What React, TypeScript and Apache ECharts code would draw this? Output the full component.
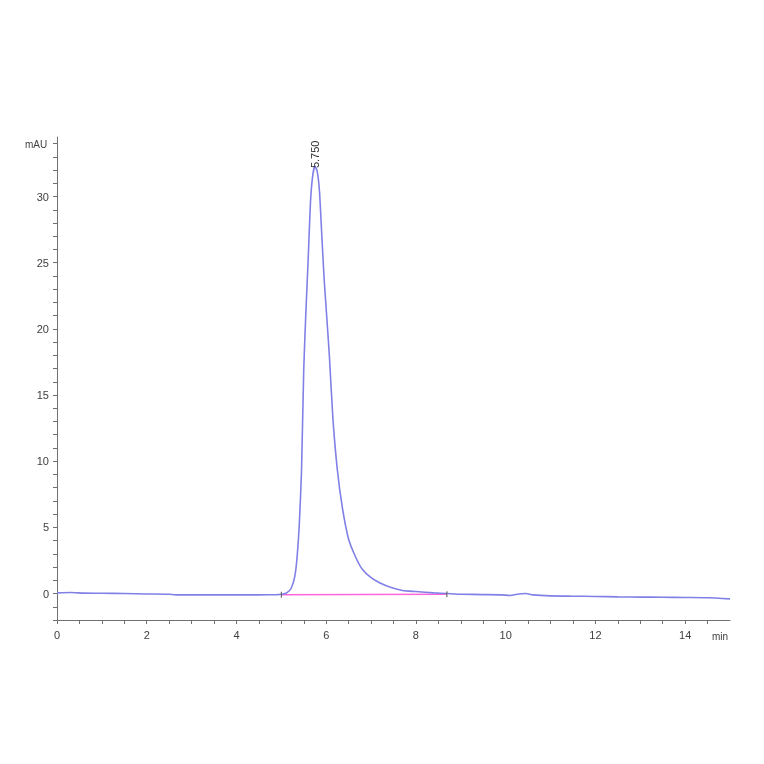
import React, { useEffect, useRef } from "react";
import * as echarts from "echarts";

// retention time (min) and detector signal (mAU)
const timeMin = [
  0, 0.3, 0.6, 1.0, 1.5, 2.0, 2.5, 2.65, 3.0, 3.5, 4.0, 4.5, 4.9, 5.02, 5.12,
  5.22, 5.3, 5.35, 5.4, 5.45, 5.5, 5.55, 5.6, 5.65, 5.7, 5.75, 5.8, 5.85, 5.9,
  5.95, 6.0, 6.07, 6.15, 6.25, 6.36, 6.5, 6.65, 6.8, 7.0, 7.2, 7.45, 7.7, 8.0,
  8.4, 8.7, 9.0, 9.5, 9.9, 10.1, 10.25, 10.45, 10.6, 11.0, 11.5, 12.0, 12.5,
  13.0, 13.5, 14.0, 14.5, 15.0,
];
const signalMAU = [
  0.05, 0.08, 0.03, 0.02, 0.0, -0.03, -0.05, -0.1, -0.1, -0.1, -0.1, -0.1,
  -0.08, -0.05, 0.05, 0.4, 1.3, 2.7, 5.2, 9.3, 17.0, 21.5, 25.4, 29.6, 31.6,
  32.3, 31.9, 30.4, 27.2, 24.0, 21.5, 18.0, 13.2, 9.3, 6.5, 4.1, 2.8, 1.85, 1.2,
  0.8, 0.45, 0.23, 0.15, 0.05, 0.0, -0.05, -0.08, -0.1, -0.15, -0.05, 0.0, -0.1,
  -0.18, -0.2, -0.22, -0.25, -0.27, -0.28, -0.3, -0.32, -0.4,
];

// integration baseline under the peak
const baselineTime = [5.0, 8.69];
const baselineValue = [-0.1, -0.06];

const peakTime = 5.75;
const peakValue = 32.3;
const peakLabel = "5.750";

// axis layout: x ticks every 0.5 min, labelled every 2; y ticks every 1 mAU, labelled every 5
const xMin = 0;
const xMax = 15;
const xTickStep = 0.5;
const xLabelStep = 2;
const yMin = -2;
const yMax = 34.5;
const yTickStep = 1;
const yLabelStep = 5;

const axisColor = "#707070";
const textColor = "#404040";
const font = "Liberation Sans";

const App: React.FC = () => {
  const chartRef = useRef<HTMLDivElement>(null);

  useEffect(() => {
    if (!chartRef.current) return;
    const chart = echarts.init(chartRef.current, undefined, { renderer: "svg" });

    const trace = timeMin.map((t, i) => [t, signalMAU[i]]);
    const baseline = baselineTime.map((t, i) => [t, baselineValue[i]]);

    chart.setOption({
      animation: false,
      grid: { left: 57, right: 34, top: 137, bottom: 144 },
      xAxis: {
        type: "value",
        min: xMin,
        max: xMax,
        interval: xTickStep,
        axisLine: { show: true, onZero: false, lineStyle: { color: axisColor } },
        axisTick: { show: true, length: 4, lineStyle: { color: axisColor } },
        axisLabel: {
          color: textColor,
          fontSize: 11,
          fontFamily: font,
          margin: 9,
          showMaxLabel: false,
          formatter: (v: number) => (v % xLabelStep === 0 ? String(v) : ""),
        },
        splitLine: { show: false },
      },
      yAxis: {
        type: "value",
        min: yMin,
        max: yMax,
        interval: yTickStep,
        axisLine: { show: true, onZero: false, lineStyle: { color: axisColor } },
        axisTick: { show: true, length: 4, lineStyle: { color: axisColor } },
        axisLabel: {
          color: textColor,
          fontSize: 11,
          fontFamily: font,
          margin: 8,
          showMaxLabel: false,
          formatter: (v: number) => (v >= 0 && v % yLabelStep === 0 ? String(v) : ""),
        },
        splitLine: { show: false },
      },
      graphic: [
        {
          type: "text",
          left: 25,
          top: 139,
          style: { text: "mAU", fill: textColor, font: `10px ${font}` },
        },
        {
          type: "text",
          left: 712,
          top: 631,
          style: { text: "min", fill: textColor, font: `10px ${font}` },
        },
      ],
      series: [
        {
          type: "line",
          data: baseline,
          symbol: "none",
          z: 1,
          lineStyle: { color: "#ff66d9", width: 1.5 },
          markPoint: {
            symbol: "rect",
            symbolSize: [1, 6],
            itemStyle: { color: "#555555" },
            label: { show: false },
            data: baseline.map((c) => ({ coord: c })),
          },
        },
        {
          type: "line",
          data: trace,
          symbol: "none",
          smooth: 0.2,
          z: 2,
          lineStyle: { color: "#8080e6", width: 1.6 },
          markPoint: {
            symbol: "circle",
            symbolSize: 0,
            data: [
              {
                coord: [peakTime, peakValue],
                label: {
                  show: true,
                  formatter: peakLabel,
                  position: "top",
                  distance: -2,
                  rotate: 90,
                  align: "left",
                  verticalAlign: "middle",
                  color: "#303030",
                  fontSize: 11,
                  fontFamily: font,
                },
              },
            ],
          },
        },
      ],
    });

    return () => {
      chart.dispose();
    };
  }, []);

  return (
    <div
      ref={chartRef}
      style={{ position: "fixed", left: 0, top: 0, width: "764px", height: "764px" }}
    />
  );
};

export default App;
